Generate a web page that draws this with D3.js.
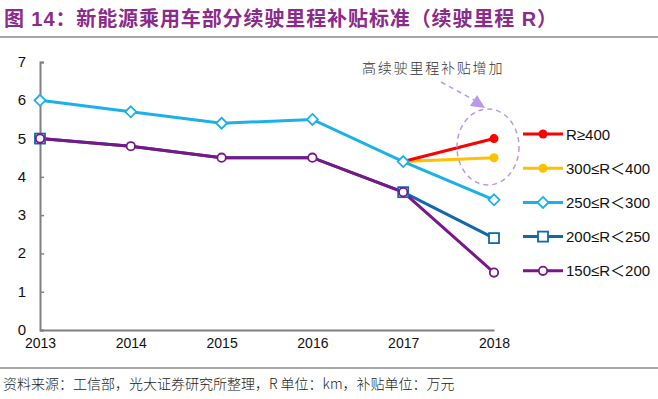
<!DOCTYPE html>
<html>
<head>
<meta charset="utf-8">
<script src="https://cdnjs.cloudflare.com/ajax/libs/d3/7.8.5/d3.min.js"></script>
<style>
body { margin: 0; background: #fff; }
text { font-family: Arial, "Liberation Sans", "Noto Sans CJK SC", sans-serif; }
</style>
</head>
<body>
<script>
var width = 658, height = 399;

var years = [2013, 2014, 2015, 2016, 2017, 2018];
var yTicks = [0, 1, 2, 3, 4, 5, 6, 7];

// series (null = no value that year)
var r400 = [null, null, null, null, 4.4, 5.0];
var r300_400 = [null, null, null, null, 4.4, 4.5];
var r250_300 = [6.0, 5.7, 5.4, 5.5, 4.4, 3.4];
var r200_250 = [5.0, 4.8, 4.5, 4.5, 3.6, 2.4];
var r150_200 = [5.0, 4.8, 4.5, 4.5, 3.6, 1.5];

var seriesNames = ["R≥400", "300≤R＜400", "250≤R＜300", "200≤R＜250", "150≤R＜200"];

var series = [
  {name: seriesNames[2], values: r250_300, color: "#1ab0e8", marker: "diamond", markAt: [0,1,2,3,4,5]},
  {name: seriesNames[3], values: r200_250, color: "#1268ad", marker: "square", markAt: [0,4,5]},
  {name: seriesNames[4], values: r150_200, color: "#78168a", marker: "circle", markAt: [0,1,2,3,4,5]},
  {name: seriesNames[1], values: r300_400, color: "#ffc000", marker: "dot", markAt: [5]},
  {name: seriesNames[0], values: r400, color: "#ff0000", marker: "dot", markAt: [5]}
];

var svg = d3.select("body").append("svg")
  .attr("width", width)
  .attr("height", height);

// title
svg.append("text")
  .attr("x", 4).attr("y", 26)
  .attr("fill", "#8b2a8b")
  .attr("font-size", 20).attr("font-weight", "bold").attr("letter-spacing", 0.9)
  .text("图 14：新能源乘用车部分续驶里程补贴标准（续驶里程 R）");
svg.append("line").attr("x1", 0).attr("x2", width).attr("y1", 37).attr("y2", 37)
  .attr("stroke", "#888").attr("stroke-width", 1.5);

var x = d3.scaleLinear().domain([2013, 2018]).range([40, 494]);
var y = d3.scaleLinear().domain([0, 7]).range([330, 62]);

// axes
var yAxis = svg.append("g").attr("transform", "translate(40,0)")
  .call(d3.axisRight(y).tickValues(yTicks).tickSize(4).tickFormat(""));
yAxis.select(".domain").attr("stroke", "#808080").attr("stroke-width", 2);
yAxis.selectAll(".tick line").attr("stroke", "#808080").attr("stroke-width", 1.5);

svg.append("g").selectAll("text").data(yTicks).enter().append("text")
  .attr("x", 22).attr("y", function(d) { return y(d) + 5; })
  .attr("text-anchor", "middle").attr("font-size", 15).attr("fill", "#111")
  .text(function(d) { return d; });

var xAxis = svg.append("g").attr("transform", "translate(0,330)")
  .call(d3.axisBottom(x).tickValues(years).tickSize(0).tickFormat(d3.format("d")));
xAxis.select(".domain").attr("stroke", "#808080").attr("stroke-width", 2);
xAxis.selectAll(".tick text").attr("font-size", 14).attr("fill", "#111")
  .attr("dy", "1.1em").attr("font-family", "Arial, 'Liberation Sans', sans-serif");

// lines
var line = d3.line()
  .defined(function(d) { return d != null; })
  .x(function(d, i) { return x(years[i]); })
  .y(function(d) { return y(d); });

function drawMarker(g, type, cx, cy, color) {
  if (type == "diamond") {
    g.append("path").attr("d", "M" + cx + "," + (cy - 5.5) + "L" + (cx + 5.5) + "," + cy + "L" + cx + "," + (cy + 5.5) + "L" + (cx - 5.5) + "," + cy + "Z")
      .attr("fill", "#fff").attr("stroke", color).attr("stroke-width", 1.8);
  } else if (type == "square") {
    g.append("rect").attr("x", cx - 5).attr("y", cy - 5).attr("width", 10).attr("height", 10)
      .attr("fill", "#fff").attr("stroke", color).attr("stroke-width", 1.8);
  } else if (type == "circle") {
    g.append("circle").attr("cx", cx).attr("cy", cy).attr("r", 4.2)
      .attr("fill", "#fff").attr("stroke", color).attr("stroke-width", 1.8);
  } else {
    g.append("circle").attr("cx", cx).attr("cy", cy).attr("r", 4.5).attr("fill", color);
  }
}

series.forEach(function(s) {
  svg.append("path").datum(s.values)
    .attr("d", line)
    .attr("fill", "none").attr("stroke", s.color).attr("stroke-width", 3);
});
// markers: squares under circles
[series[1], series[0], series[2], series[3], series[4]].forEach(function(s) {
  var g = svg.append("g");
  s.markAt.forEach(function(i) {
    drawMarker(g, s.marker, x(years[i]), y(s.values[i]), s.color);
  });
});

// annotation
svg.append("ellipse").attr("cx", 488).attr("cy", 147).attr("rx", 31).attr("ry", 38)
  .attr("fill", "none").attr("stroke", "#b89ae8").attr("stroke-width", 1.5)
  .attr("stroke-dasharray", "5,4");
svg.append("line").attr("x1", 441).attr("y1", 82).attr("x2", 474).attr("y2", 100)
  .attr("stroke", "#b89ae8").attr("stroke-width", 1.5).attr("stroke-dasharray", "5,4");
svg.append("path").attr("d", "M477,95 L485,108 L470,106 Z").attr("fill", "#b89ae8");
svg.append("text").attr("x", 362).attr("y", 73)
  .attr("font-size", 14).attr("fill", "#333").attr("letter-spacing", 1.8)
  .style("font-family", "'Noto Sans CJK SC', sans-serif").style("font-weight", 300)
  .text("高续驶里程补贴增加");

// legend
var legendOrder = [series[4], series[3], series[0], series[1], series[2]];
var legend = svg.append("g");
legendOrder.forEach(function(s, i) {
  var ly = 134 + i * 34.2;
  legend.append("line").attr("x1", 523).attr("x2", 563).attr("y1", ly).attr("y2", ly)
    .attr("stroke", s.color).attr("stroke-width", 3);
  drawMarker(legend, s.marker, 543, ly, s.color);
  legend.append("text").attr("x", 566).attr("y", ly + 5.5)
    .attr("font-size", 15).attr("fill", "#111").text(s.name);
});

// footer
svg.append("line").attr("x1", 0).attr("x2", width).attr("y1", 368).attr("y2", 368)
  .attr("stroke", "#888").attr("stroke-width", 1.5);
svg.append("text").attr("x", 3).attr("y", 389)
  .attr("font-size", 14).attr("fill", "#222")
  .style("font-family", "'Noto Sans CJK SC', sans-serif").style("font-weight", 300)
  .text("资料来源：工信部，光大证券研究所整理，R 单位：km，补贴单位：万元");
</script>
</body>
</html>
